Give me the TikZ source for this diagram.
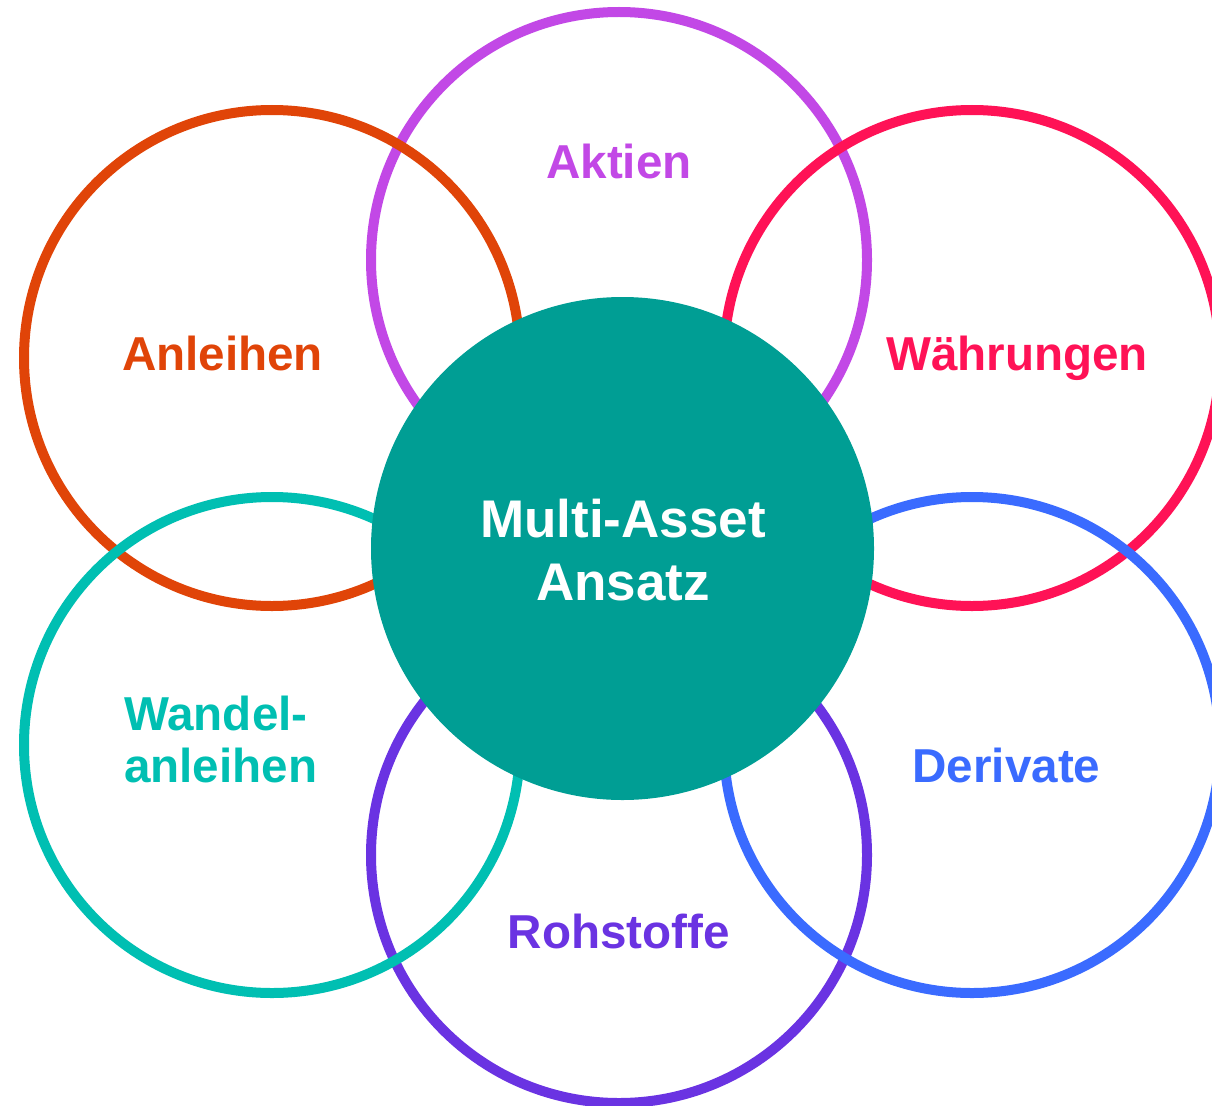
\documentclass[tikz,border=0pt]{standalone}
\usepackage{fontspec}
\setmainfont{Liberation Sans}
\definecolor{cAnl}{HTML}{E04408}
\definecolor{cAkt}{HTML}{C248E6}
\definecolor{cWae}{HTML}{FF1256}
\definecolor{cWan}{HTML}{00BFB2}
\definecolor{cDer}{HTML}{3A6BFF}
\definecolor{cRoh}{HTML}{6A33E2}
\definecolor{cMid}{HTML}{009E94}
\tikzset{
  ring/.style={circle, draw=#1, line width=10pt, minimum size=496pt, inner sep=0pt},
  lbl/.style={text=#1, font=\fontsize{47.6}{53}\selectfont\bfseries, inner sep=0pt, anchor=base},
  midc/.style={circle, fill=cMid, minimum size=503pt, inner sep=0pt},
  midl/.style={text=white, font=\fontsize{53}{62}\selectfont\bfseries, inner sep=0pt, anchor=base}
}
\begin{document}
\begin{tikzpicture}[x=1pt,y=-1pt]
\useasboundingbox (0,0) rectangle (1212,1105);
\clip (0,0) rectangle (1212,1105);
\node[ring=cAkt] (akt) at (619,260) {};
\node[ring=cRoh] (roh) at (619,855) {};
\node[ring=cAnl] (anl) at (272,358) {};
\node[ring=cWae] (wae) at (972,358) {};
\node[ring=cWan] (wan) at (272,745) {};
\node[ring=cDer] (der) at (972,745) {};
\node[midc] (mid) at (622.5,548.5) {};
\node[lbl=cAkt] (takt) at (619,178) {Aktien};
\node[lbl=cAnl] (tanl) at (222.5,370) {Anleihen};
\node[lbl=cWae] (twae) at (1017,370) {Währungen};
\node[lbl=cWan, anchor=base west] (twan1) at (124,730) {Wandel-};
\node[lbl=cWan, anchor=base west] (twan2) at (124,782) {anleihen};
\node[lbl=cDer] (tder) at (1006.5,782) {Derivate};
\node[lbl=cRoh] (troh) at (619,948) {Rohstoffe};
\node[midl] (tmid1) at (623,537) {Multi-Asset};
\node[midl] (tmid2) at (623,600) {Ansatz};
\end{tikzpicture}
\end{document}
